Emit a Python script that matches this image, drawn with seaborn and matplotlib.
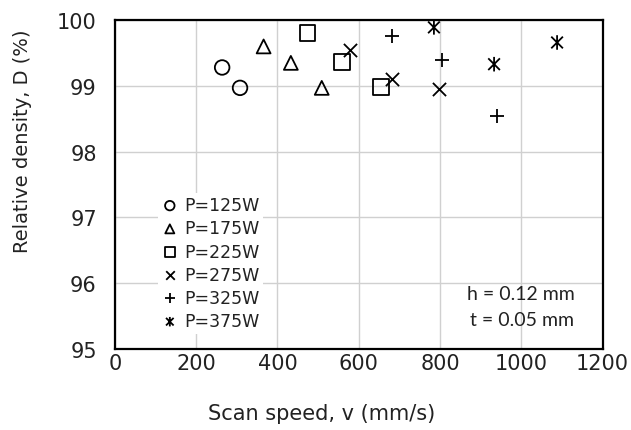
import numpy as np
import pandas as pd
import matplotlib
matplotlib.use("Agg")
import matplotlib.pyplot as plt
import seaborn as sns
from matplotlib.path import Path

powers = ["P=125W", "P=175W", "P=225W", "P=275W", "P=325W", "P=375W"]
speed_125 = [264, 308]
dens_125 = [99.28, 98.97]
speed_175 = [366, 433, 509]
dens_175 = [99.60, 99.35, 98.97]
speed_225 = [474, 559, 654]
dens_225 = [99.80, 99.36, 98.98]
speed_275 = [578, 681, 798]
dens_275 = [99.54, 99.11, 98.96]
speed_325 = [681, 804, 941]
dens_325 = [99.76, 99.40, 98.54]
speed_375 = [785, 933, 1088]
dens_375 = [99.89, 99.33, 99.66]

x_ticks = [0, 200, 400, 600, 800, 1000, 1200]
y_ticks = [95, 96, 97, 98, 99, 100]
notes = ["h = 0.12 mm", "t = 0.05 mm"]

speeds = [speed_125, speed_175, speed_225, speed_275, speed_325, speed_375]
dens = [dens_125, dens_175, dens_225, dens_275, dens_325, dens_375]
df = pd.concat([pd.DataFrame({"v": s, "D": d, "P": p}) for s, d, p in zip(speeds, dens, powers)])

sns.set_style("white")
plt.rcParams['font.family'] = ['DejaVu Sans']
plt.rcParams['text.color'] = '#222222'
plt.rcParams['xtick.color'] = '#222222'
plt.rcParams['ytick.color'] = '#222222'

star = Path([(0, -1), (0, 1), (-0.8, -0.8), (0.8, 0.8), (-0.8, 0.8), (0.8, -0.8)],
            [Path.MOVETO, Path.LINETO, Path.MOVETO, Path.LINETO, Path.MOVETO, Path.LINETO])
markers = ["o", "^", "s", "x", "+", star]
sizes = [110, 100, 130, 90, 110, 110]

fig = plt.figure(figsize=(6.31, 4.31), dpi=100)
ax = fig.add_axes([0.182, 0.188, 0.773, 0.763])

for p, m, s in zip(powers, markers, sizes):
    sub = df[df["P"] == p]
    if m in ("x", "+"):
        sns.scatterplot(data=sub, x="v", y="D", marker=m, s=s, color="black",
                        linewidth=1.3, ax=ax, label=p, zorder=3)
    else:
        sns.scatterplot(data=sub, x="v", y="D", marker=m, s=s, facecolors="none",
                        edgecolor="black", linewidth=1.3, ax=ax, label=p, zorder=3)

ax.set_xlim(0, 1200)
ax.set_ylim(95, 100)
ax.set_xticks(x_ticks)
ax.set_yticks(y_ticks)
ax.tick_params(axis="both", labelsize=15, length=0)
ax.tick_params(axis="x", pad=3)
ax.tick_params(axis="y", pad=13)
ax.grid(True, color="#d0d0d0", linewidth=1)
ax.set_axisbelow(True)
for sp in ax.spines.values():
    sp.set_color("black")
    sp.set_linewidth(1.6)
ax.set_xlabel("")
ax.set_ylabel("")

fig.text(0.509, 0.04, "Scan speed, v (mm/s)", ha="center", va="center", fontsize=15)
fig.text(0.036, 0.673, "Relative density, D (%)", ha="center", va="center",
         rotation=90, fontsize=14)

leg = ax.legend(loc="lower left", bbox_to_anchor=(0.07, 0.02), frameon=True,
                fontsize=12.5, handletextpad=0.35, labelspacing=0.3,
                borderpad=0.2, handlelength=1.0, markerscale=0.65)
leg.get_frame().set_facecolor("white")
leg.get_frame().set_edgecolor("none")
leg.get_frame().set_alpha(1)

for txt, yy in zip(notes, [0.170, 0.091]):
    ax.text(0.942, yy, txt, transform=ax.transAxes, ha="right", va="center",
            fontsize=14, family=["Lato", "DejaVu Sans"])

fig.savefig("out.png", dpi=100)
